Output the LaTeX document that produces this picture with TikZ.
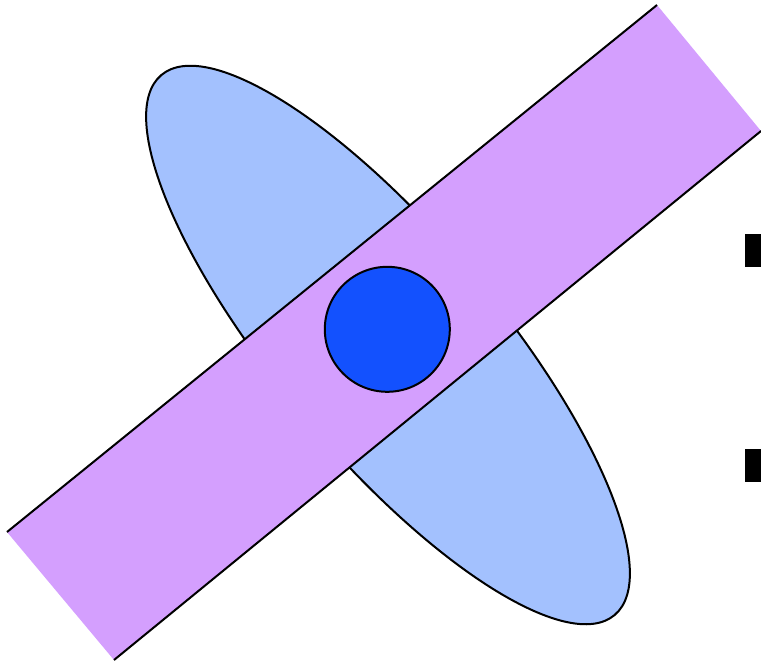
\documentclass[tikz,border=0pt]{standalone}
\usepackage{xcolor}
\usepackage{tikz}
\usetikzlibrary{calc}
\definecolor{lightblue}{HTML}{A3C1FE}
\definecolor{lilac}{HTML}{D49FFE}
\definecolor{deepblue}{HTML}{1351FE}
\tikzset{
  edge/.style={black,line width=2pt},
  blob/.style={edge,fill=lightblue},
  dot/.style={edge,fill=deepblue}
}
\begin{document}
\begin{tikzpicture}[x=1pt,y=-1pt]
\useasboundingbox (0,0) rectangle (761,664);
% ellipse behind the band
\draw[blob,shift={(388,345)},rotate=-50] (0,0) ellipse [x radius=352.5,y radius=110.3];
% band, only the long sides are stroked
\coordinate (bandL) at (7,532);
\coordinate (bandT) at (657,5);
\coordinate (bandR) at (761,131);
\coordinate (bandB) at (114,660);
\fill[lilac] (bandL)--(bandT)--(bandR)--(bandB)--cycle;
\draw[edge] (bandL)--(bandT);
\draw[edge] (bandB)--(bandR);
% centre disc
\draw[dot] (387.3,329.3) circle [radius=62.5];
% marks at the right edge
\fill[black] (745,234) rectangle (761,266.7);
\fill[black] (745,449) rectangle (761,481.7);
\end{tikzpicture}
\end{document}
